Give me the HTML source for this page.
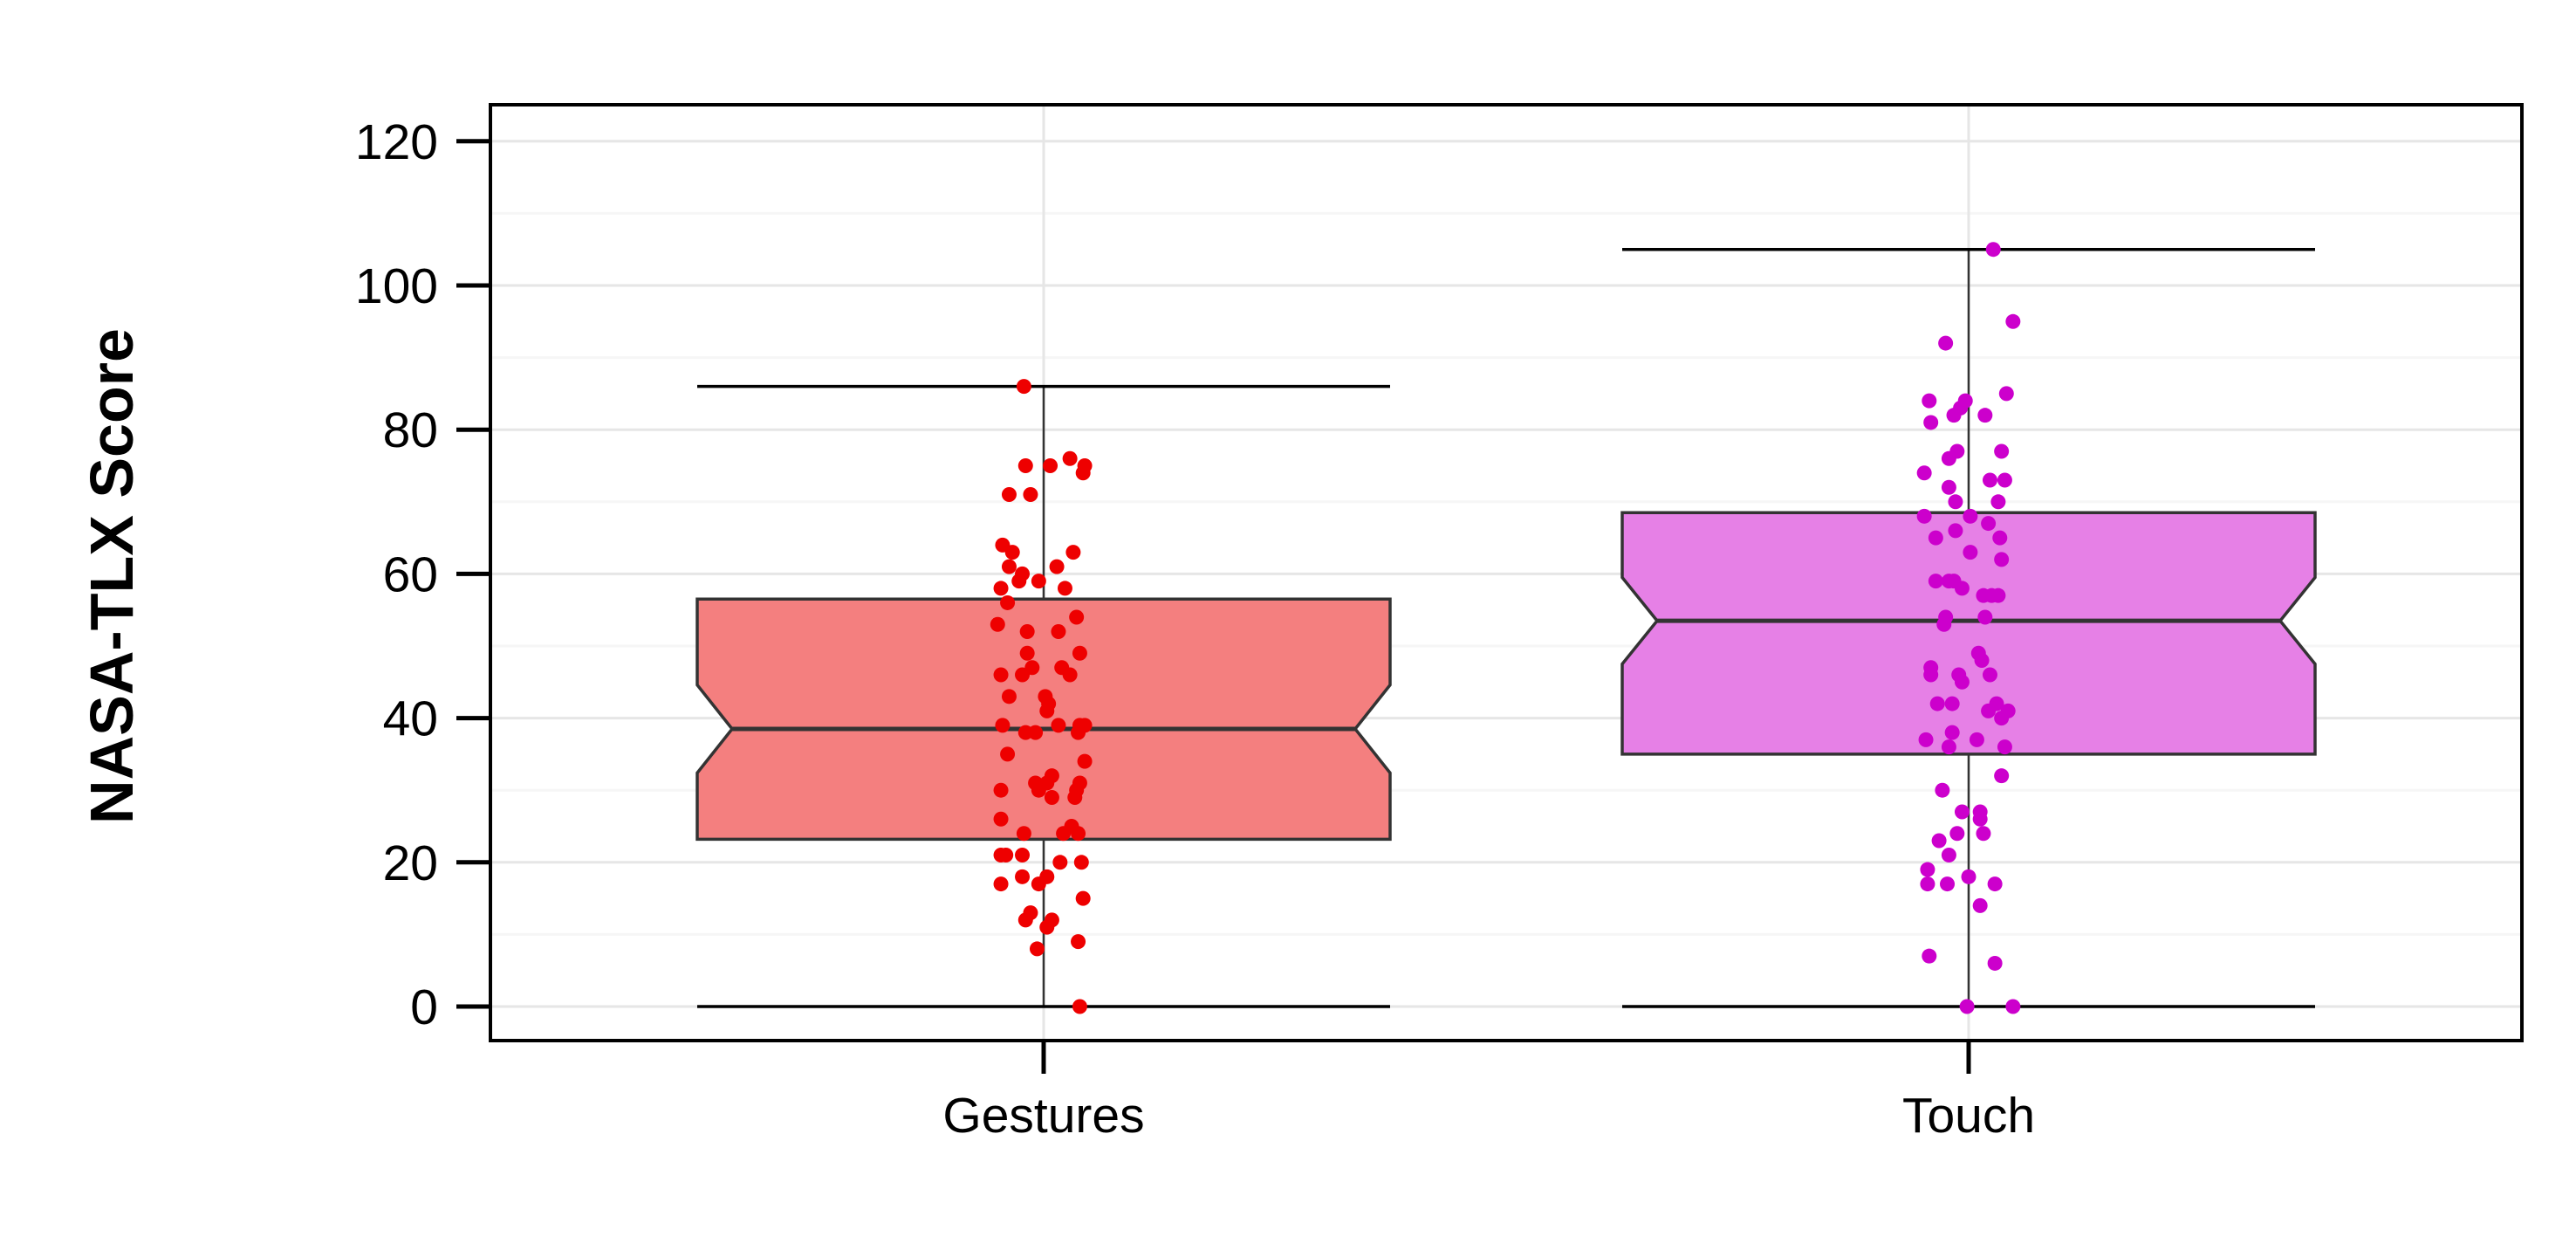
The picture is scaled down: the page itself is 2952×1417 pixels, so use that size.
<!DOCTYPE html>
<html><head><meta charset="utf-8"><style>
html,body{margin:0;padding:0;background:#fff;}
svg{display:block;font-family:"Liberation Sans",Arial,sans-serif;}
</style></head><body>
<svg id="chart" width="2952" height="1417" viewBox="0 0 2952 1417" xmlns="http://www.w3.org/2000/svg">
<rect x="0" y="0" width="2952" height="1417" fill="#fff"/>
<g id="grid"></g>
<g id="marks"></g>
<rect x="562" y="120" width="2328" height="1072" fill="none" stroke="#000" stroke-width="4"/>
<g id="axes"></g>
<text x="128" y="660" transform="rotate(-90 128 660)" text-anchor="middle" dominant-baseline="central" font-size="70" font-weight="bold">NASA-TLX Score</text>
</svg>
<script>
const categories = ["Gestures","Touch"];
const whiskerLow = [0,0];
const whiskerHigh = [86,105];
const q1 = [23.2,35];
const median = [38.5,53.5];
const q3 = [56.5,68.5];
const notchLow = [32.4,47.5];
const notchHigh = [44.6,59.5];
const yTicks = [0,20,40,60,80,100,120];
const gestJitter = [-12,-11,4,16,24,25,-21,-8,-25,-19,18,-21,8,-13,-3,-15,-26,13,-22,20,-28,-10,9,22,-10,-7,11,-26,-13,16,-21,1,3,2,-25,9,22,25,-11,-5,21,-22,25,5,22,-5,2,20,-3,-26,5,19,-26,17,-12,12,21,-23,-26,-13,23,10,-13,2,-26,-3,24,-8,-11,5,2,21,-4,22];
const gestValues = [86,75,75,76,74,75,71,71,64,63,63,61,61,60,59,59,58,58,56,54,53,52,52,49,49,47,47,46,46,46,43,43,42,41,39,39,39,39,38,38,38,35,34,32,31,31,31,30,30,30,29,29,26,25,24,24,24,21,21,21,20,20,18,18,17,17,15,13,12,12,11,9,8,0];
const touchJitter = [15,27,-14,23,-24,-2,-5,10,-9,-23,-7,20,-12,-27,13,22,-12,18,-8,1,-27,12,-8,-20,19,1,20,-20,-12,-9,-4,9,14,18,-14,10,-15,6,8,-23,-23,-6,13,-4,-19,-10,17,12,24,20,-10,-26,5,-12,22,20,-16,-4,7,7,-7,9,-18,-12,-25,0,-25,-13,16,7,-24,16,-1,27];
const touchValues = [105,95,92,85,84,84,83,82,82,81,77,77,76,74,73,73,72,70,70,68,68,67,66,65,65,63,62,59,59,59,58,57,57,57,54,54,53,49,48,47,46,46,46,45,42,42,42,41,41,40,38,37,37,36,36,32,30,27,27,26,24,24,23,21,19,18,17,17,17,14,7,6,0,0];
const jitters=[gestJitter,touchJitter], values=[gestValues,touchValues];
const fills=["#F47F7F","#E680E6"], dots=["#EE0000","#CC00CC"];
const NS="http://www.w3.org/2000/svg";
const Y0=1153, PU=8.26;
function yS(v){return Y0-v*PU;}
function xS(i){return 1196+i*1060;}
const HALF=397, NOTCH=40, JS=1.883;
function mk(tag,attrs,parent){const e=document.createElementNS(NS,tag);for(const k in attrs)e.setAttribute(k,attrs[k]);parent.appendChild(e);return e;}
const grid=document.getElementById('grid'), marks=document.getElementById('marks'), axes=document.getElementById('axes');
for(let v=10;v<=130;v+=20){const y=yS(v);if(y<122)continue;
 const l=mk('line',{x1:564,x2:2888,y1:y,y2:y,stroke:'#f6f6f6','stroke-width':3},grid);
 
 }
yTicks.forEach(v=>{const y=yS(v);
 const l=mk('line',{x1:564,x2:2888,y1:y,y2:y,stroke:'#e6e6e6','stroke-width':3},grid);
 
 
 const t=mk('line',{x1:523,x2:562,y1:y,y2:y,stroke:'#000','stroke-width':5},axes);
 
 
 const tx=mk('text',{x:502,y:y+20,'text-anchor':'end','font-size':57},axes);
 tx.textContent=v;
 
 });
categories.forEach((c,i)=>{const cx=xS(i);
 const g=mk('line',{x1:cx,x2:cx,y1:122,y2:1190,stroke:'#e6e6e6','stroke-width':3},grid);
 
 
 const w=mk('line',{x1:cx,x2:cx,y1:yS(whiskerLow[i]),y2:yS(whiskerHigh[i]),stroke:'#333','stroke-width':2.5},marks);
 
 
 [whiskerLow[i],whiskerHigh[i]].forEach(v=>{const cap=mk('line',{x1:cx-HALF,x2:cx+HALF,y1:yS(v),y2:yS(v),stroke:'#000','stroke-width':3.5},marks);
  
  });
 const L=cx-HALF,R=cx+HALF;
 const pts=[[L,yS(q3[i])],[R,yS(q3[i])],[R,yS(notchHigh[i])],[R-NOTCH,yS(median[i])],[R,yS(notchLow[i])],[R,yS(q1[i])],[L,yS(q1[i])],[L,yS(notchLow[i])],[L+NOTCH,yS(median[i])],[L,yS(notchHigh[i])]];
 const b=mk('polygon',{points:pts.map(p=>p.join(',')).join(' '),fill:fills[i],stroke:'#333','stroke-width':3.5,'stroke-linejoin':'miter'},marks);
 
 
 const m=mk('line',{x1:L+NOTCH,x2:R-NOTCH,y1:yS(median[i]),y2:yS(median[i]),stroke:'#333','stroke-width':5},marks);
 
 
 values[i].forEach((v,k)=>{const d=mk('circle',{cx:cx+jitters[i][k]*JS,cy:yS(v),r:8.5,fill:dots[i]},marks);
  
  });
 const t=mk('line',{x1:cx,x2:cx,y1:1192,y2:1230,stroke:'#000','stroke-width':5},axes);
 
 
 const tx=mk('text',{x:cx,y:1297,'text-anchor':'middle','font-size':57},axes);
 tx.textContent=c;
 
 });
</script>
</body></html>
